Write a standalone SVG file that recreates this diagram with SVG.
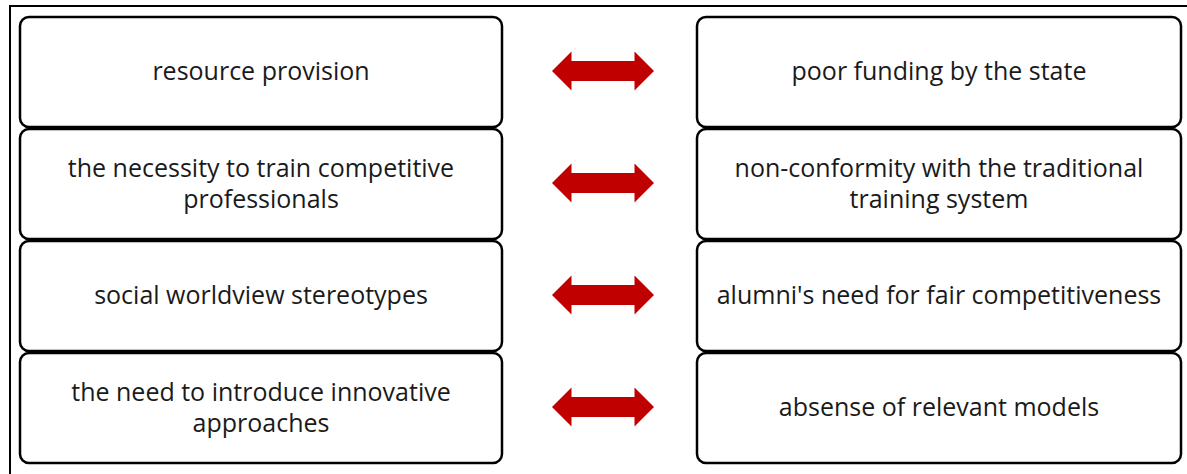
<svg xmlns="http://www.w3.org/2000/svg" width="1187" height="474" viewBox="0 0 1187 474">
<defs>
<style>
.frame{fill:none;stroke:#000;stroke-width:2}
.box{fill:#fff;stroke:#000;stroke-width:2.5}
.t{font-family:"Open Sans","Liberation Sans",sans-serif;font-size:25px;fill:#1a1a1a;text-anchor:middle}
.arr{fill:#C00000}
</style>
<path id="dbl" d="M0,0 L19.5,-19.5 L19.5,-10 L82.5,-10 L82.5,-19.5 L102,0 L82.5,19.5 L82.5,10 L19.5,10 L19.5,19.5 Z"/>
</defs>
<rect width="1187" height="474" fill="#fff"/>
<path class="frame" d="M10,474 L10,6 L1187,6"/>
<g id="L1"><rect class="box" x="20" y="17" width="482" height="110" rx="9"/><text class="t" x="261" y="80">resource provision</text></g>
<g id="L2"><rect class="box" x="20" y="129" width="482" height="110" rx="9"/><text class="t" x="261" y="177">the necessity to train competitive</text><text class="t" x="261" y="208">professionals</text></g>
<g id="L3"><rect class="box" x="20" y="241" width="482" height="110" rx="9"/><text class="t" x="261" y="304">social worldview stereotypes</text></g>
<g id="L4"><rect class="box" x="20" y="353" width="482" height="110" rx="9"/><text class="t" x="261" y="401">the need to introduce innovative</text><text class="t" x="261" y="432">approaches</text></g>
<g id="R1"><rect class="box" x="697" y="17" width="484" height="110" rx="9"/><text class="t" x="939" y="80">poor funding by the state</text></g>
<g id="R2"><rect class="box" x="697" y="129" width="484" height="110" rx="9"/><text class="t" x="939" y="177">non-conformity with the traditional</text><text class="t" x="939" y="208">training system</text></g>
<g id="R3"><rect class="box" x="697" y="241" width="484" height="110" rx="9"/><text class="t" x="939" y="304">alumni's need for fair competitiveness</text></g>
<g id="R4"><rect class="box" x="697" y="353" width="484" height="110" rx="9"/><text class="t" x="939" y="416">absense of relevant models</text></g>
<g id="connectors">
<use href="#dbl" class="arr" x="552" y="71"/>
<use href="#dbl" class="arr" x="552" y="183"/>
<use href="#dbl" class="arr" x="552" y="295"/>
<use href="#dbl" class="arr" x="552" y="407"/>
</g>
</svg>
